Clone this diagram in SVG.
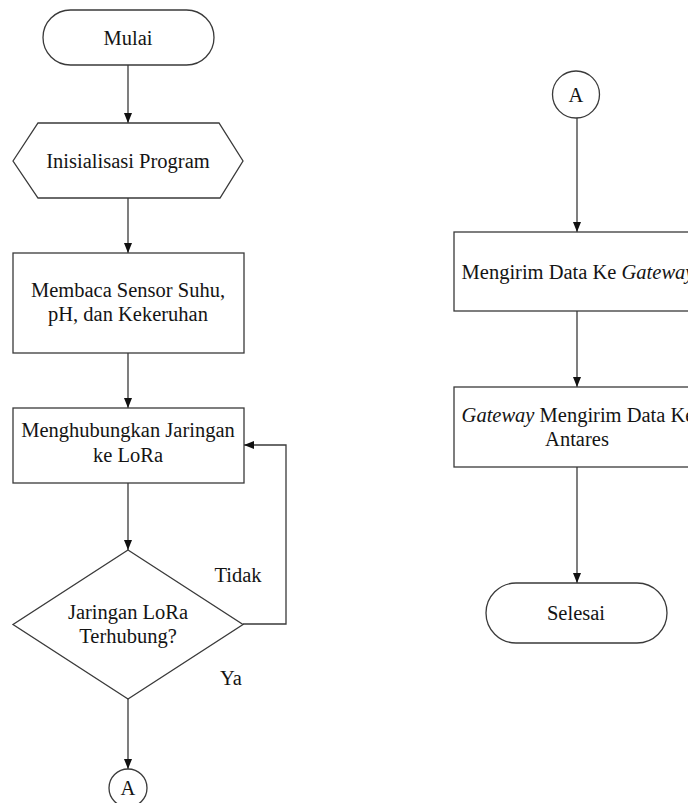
<svg xmlns="http://www.w3.org/2000/svg" width="688" height="803" viewBox="0 0 688 803">
<defs>
<style>
.s{fill:#fff;stroke:#3a3a3a;stroke-width:1.3}
.t{font-family:"Liberation Serif","Times New Roman",serif;font-size:20.5px;fill:#141414;text-anchor:middle}
.c{fill:none;stroke:#3a3a3a;stroke-width:1.3}
</style>
<marker id="ah" viewBox="0 0 10 10" refX="10" refY="5" markerWidth="10" markerHeight="10" markerUnits="userSpaceOnUse" orient="auto">
<path d="M0,1 L10,5 L0,9 Z" fill="#111"/>
</marker>
</defs>
<rect width="688" height="803" fill="#fff"/>
<g id="connectors">
<line class="c" x1="128" y1="65" x2="128" y2="123" marker-end="url(#ah)"/>
<line class="c" x1="128" y1="198" x2="128" y2="253" marker-end="url(#ah)"/>
<line class="c" x1="128" y1="353" x2="128" y2="408" marker-end="url(#ah)"/>
<line class="c" x1="128" y1="483" x2="128" y2="550" marker-end="url(#ah)"/>
<polyline class="c" points="243,624 286,624 286,445 244,445" marker-end="url(#ah)"/>
<line class="c" x1="128" y1="699" x2="128" y2="769" marker-end="url(#ah)"/>
<line class="c" x1="577" y1="118" x2="577" y2="232" marker-end="url(#ah)"/>
<line class="c" x1="577" y1="311" x2="577" y2="387" marker-end="url(#ah)"/>
<line class="c" x1="577" y1="467" x2="577" y2="583" marker-end="url(#ah)"/>
<text class="t" x="238" y="582">Tidak</text>
<text class="t" x="231" y="685">Ya</text>
</g>
<g id="mulai">
<rect class="s" x="43" y="10" width="171" height="55" rx="27.5"/>
<text class="t" x="128" y="45">Mulai</text>
</g>
<g id="inisialisasi">
<polygon class="s" points="13,161 38,123 219,123 243,161 220,198 38,198"/>
<text class="t" x="128" y="168">Inisialisasi Program</text>
</g>
<g id="membaca">
<rect class="s" x="13" y="253" width="231" height="100"/>
<text class="t" x="128" y="297">Membaca Sensor Suhu,</text>
<text class="t" x="128" y="321">pH, dan Kekeruhan</text>
</g>
<g id="menghubungkan">
<rect class="s" x="13" y="408" width="231" height="75"/>
<text class="t" x="128" y="437">Menghubungkan Jaringan</text>
<text class="t" x="128" y="462">ke LoRa</text>
</g>
<g id="decision">
<polygon class="s" points="128,550 243,624.5 128,699 13,624.5"/>
<text class="t" x="128" y="619">Jaringan LoRa</text>
<text class="t" x="128" y="643">Terhubung?</text>
</g>
<g id="connA1">
<circle class="s" cx="128" cy="788" r="19"/>
<text class="t" x="128" y="795">A</text>
</g>
<g id="connA2">
<circle class="s" cx="576" cy="94.5" r="23.5"/>
<text class="t" x="576" y="102">A</text>
</g>
<g id="kirim">
<rect class="s" x="454" y="232" width="246" height="79"/>
<text class="t" x="578" y="279">Mengirim Data Ke <tspan font-style="italic">Gateway</tspan></text>
</g>
<g id="gateway">
<rect class="s" x="454" y="387" width="246" height="80"/>
<text class="t" x="578" y="422"><tspan font-style="italic">Gateway</tspan> Mengirim Data Ke</text>
<text class="t" x="577" y="446">Antares</text>
</g>
<g id="selesai">
<rect class="s" x="486" y="583" width="181" height="60" rx="30"/>
<text class="t" x="576" y="620">Selesai</text>
</g>
</svg>
